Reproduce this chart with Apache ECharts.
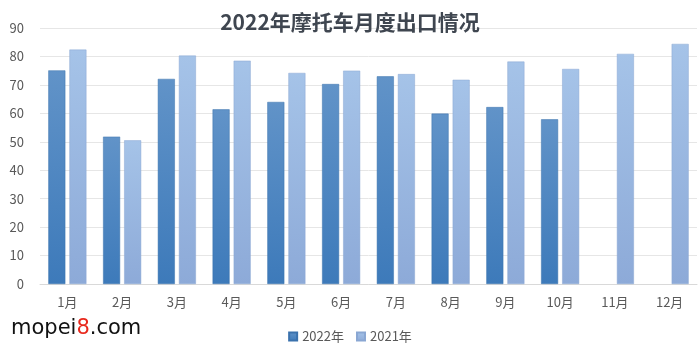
<!DOCTYPE html>
<html>
<head>
<meta charset="utf-8">
<script src="https://cdn.jsdelivr.net/npm/echarts@6/dist/echarts.min.js"></script>
<style>html,body{margin:0;padding:0;background:#fff}#c{width:700px;height:352px}</style>
</head>
<body>
<div id="c"></div>
<script>
var categories = ['1月','2月','3月','4月','5月','6月','7月','8月','9月','10月','11月','12月'];
var values2022 = [75.1, 51.8, 72.1, 61.4, 64.0, 70.3, 73.0, 59.9, 62.2, 57.9, null, null];
var values2021 = [82.4, 50.5, 80.3, 78.5, 74.2, 75.0, 73.8, 71.8, 78.2, 75.6, 80.9, 84.4];
var yTicks = [0, 10, 20, 30, 40, 50, 60, 70, 80, 90];

var chart = echarts.init(document.getElementById('c'));
var font = '"Noto Sans CJK SC", "Noto Sans", sans-serif';
chart.setOption({
  backgroundColor: '#fff',
  animation: false,
  title: {
    text: '2022年摩托车月度出口情况',
    left: 'center',
    top: 7,
    textStyle: {fontFamily: font, fontSize: 21, fontWeight: 'bold', color: '#3f4650'}
  },
  legend: {
    bottom: 4,
    left: 'center',
    itemWidth: 8,
    itemHeight: 8,
    itemGap: 12,
    icon: 'rect',
    textStyle: {fontFamily: font, fontSize: 13, color: '#595959'},
    data: ['2022年', '2021年']
  },
  grid: {left: 40, right: 3, top: 28, bottom: 68},
  xAxis: {
    type: 'category',
    data: categories,
    axisLine: {lineStyle: {color: '#d9d9d9'}},
    axisTick: {show: false},
    axisLabel: {fontFamily: font, fontSize: 13, color: '#595959', margin: 12}
  },
  yAxis: {
    type: 'value',
    min: yTicks[0],
    max: yTicks[yTicks.length - 1],
    interval: 10,
    axisLine: {show: false},
    axisTick: {show: false},
    splitLine: {lineStyle: {color: '#e6e6e6'}},
    axisLabel: {fontFamily: font, fontSize: 13, color: '#595959', margin: 16}
  },
  graphic: [{
    type: 'text',
    left: 11,
    top: 318,
    style: {
      text: '{a|mopei}{b|8}{a|.com}',
      rich: {
        a: {fontFamily: '"DejaVu Sans", sans-serif', fontSize: 21, fill: '#111'},
        b: {fontFamily: '"DejaVu Sans", sans-serif', fontSize: 21, fill: '#e8281c'}
      }
    }
  }],
  series: [{
    name: '2022年',
    type: 'bar',
    data: values2022,
    barWidth: 17,
    barGap: '24%',
    itemStyle: {
      color: new echarts.graphic.LinearGradient(0, 0, 0, 1, [
        {offset: 0, color: '#6193c8'}, {offset: 1, color: '#3d7aba'}
      ]),
      borderColor: '#3a72ad', borderWidth: 0.5
    }
  }, {
    name: '2021年',
    type: 'bar',
    data: values2021,
    barWidth: 17,
    itemStyle: {
      color: new echarts.graphic.LinearGradient(0, 0, 0, 1, [
        {offset: 0, color: '#a5c3e8'}, {offset: 1, color: '#8daad8'}
      ]),
      borderColor: '#8aa7d3', borderWidth: 0.5
    }
  }]
});
</script>
</body>
</html>
